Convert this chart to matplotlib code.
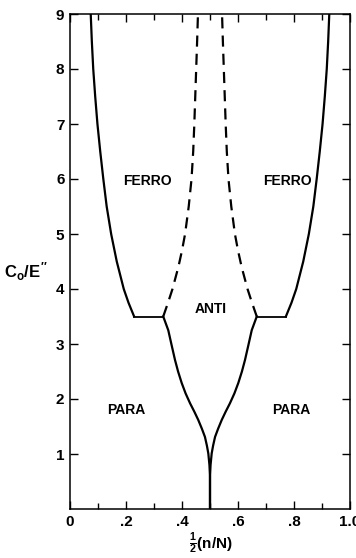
import matplotlib
matplotlib.use("Agg")
import matplotlib.pyplot as plt
from matplotlib.ticker import MultipleLocator, FixedLocator, FixedFormatter

plt.rcParams['font.family'] = ['Liberation Sans', 'DejaVu Sans']
plt.rcParams['font.weight'] = 'bold'
plt.rcParams['mathtext.fontset'] = 'custom'
plt.rcParams['mathtext.rm'] = 'Liberation Sans:bold'
plt.rcParams['mathtext.it'] = 'Liberation Sans:bold'
plt.rcParams['mathtext.bf'] = 'Liberation Sans:bold'

# Ferro/para boundary (left branch), mirrored about x = 0.5 for the right branch
ferro_y = [3.5, 3.75, 4.0, 4.5, 5.0, 5.5, 6.0, 6.5, 7.0, 7.5, 8.0, 8.5, 9.0]
ferro_x = [0.229, 0.209, 0.192, 0.167, 0.147, 0.131, 0.119, 0.108, 0.098,
           0.090, 0.083, 0.078, 0.074]

# Ledge at the triple point
ledge_y = 3.5
ledge_x = [0.229, 0.333]

# Ferro/anti boundary (dashed)
anti_y = [3.5, 3.75, 4.0, 4.4, 4.7, 5.0, 5.5, 6.0, 6.5, 7.0, 7.75, 8.5, 9.0]
anti_x = [0.333, 0.35, 0.366, 0.387, 0.40, 0.411, 0.424, 0.434, 0.440,
          0.444, 0.449, 0.454, 0.457]

# Para/anti boundary down to the cusp
para_y = [3.5, 3.25, 3.0, 2.71, 2.5, 2.29, 2.1, 1.92, 1.77, 1.62, 1.46,
          1.31, 1.15, 1.01, 0.8, 0.59, 0.0]
para_x = [0.333, 0.351, 0.362, 0.375, 0.386, 0.399, 0.413, 0.429, 0.444,
          0.458, 0.471, 0.482, 0.489, 0.494, 0.498, 0.5, 0.5]

region_labels = ["FERRO", "FERRO", "ANTI", "PARA", "PARA"]
region_x = [0.275, 0.775, 0.503, 0.2, 0.79]
region_y = [5.96, 5.96, 3.64, 1.8, 1.8]

x_ticks = [0, 0.2, 0.4, 0.6, 0.8, 1.0]
x_ticklabels = ["0", ".2", ".4", ".6", ".8", "1.0"]
y_ticks = [1, 2, 3, 4, 5, 6, 7, 8, 9]

fig = plt.figure(figsize=(3.56, 5.58), dpi=100)
ax = fig.add_axes([70/356, 1-509/558, 280/356, 495/558])

lw = 1.6
mirror = lambda xs: [1 - v for v in xs]
for xs in (ferro_x, mirror(ferro_x)):
    ax.plot(xs, ferro_y, color='black', lw=lw, solid_joinstyle='round')
for xs in (ledge_x, mirror(ledge_x)):
    ax.plot(xs, [ledge_y, ledge_y], color='black', lw=lw - 0.3)
for xs in (para_x, mirror(para_x)):
    ax.plot(xs, para_y, color='black', lw=lw, solid_joinstyle='round')
for xs in (anti_x, mirror(anti_x)):
    ax.plot(xs, anti_y, color='black', lw=lw, dashes=(5, 3.2))

for t, x, y in zip(region_labels, region_x, region_y):
    ax.text(x, y, t, ha='center', va='center', fontsize=10, fontweight='bold')

ax.set_xlim(0, 1.0)
ax.set_ylim(0, 9)
ax.xaxis.set_major_locator(FixedLocator(x_ticks))
ax.xaxis.set_major_formatter(FixedFormatter(x_ticklabels))
ax.xaxis.set_minor_locator(MultipleLocator(0.1))
ax.yaxis.set_major_locator(FixedLocator(y_ticks))
ax.tick_params(which='both', direction='in', top=True, right=True, width=1.0)
ax.tick_params(which='major', length=6, labelsize=11, pad=4)
ax.tick_params(which='minor', length=4)
for lab in ax.get_xticklabels() + ax.get_yticklabels():
    lab.set_fontweight('bold')
for s in ax.spines.values():
    s.set_linewidth(1.1)

fig.text(26/356, 1-272/558, r'$C_{o}/E^{\prime\prime}$', ha='center', va='center', fontsize=12)
fig.text(211/356, 1-544/558, r'$\frac{1}{2}$(n/N)', ha='center', va='center', fontsize=11, fontweight='bold')

fig.savefig('out.png', dpi=100)
